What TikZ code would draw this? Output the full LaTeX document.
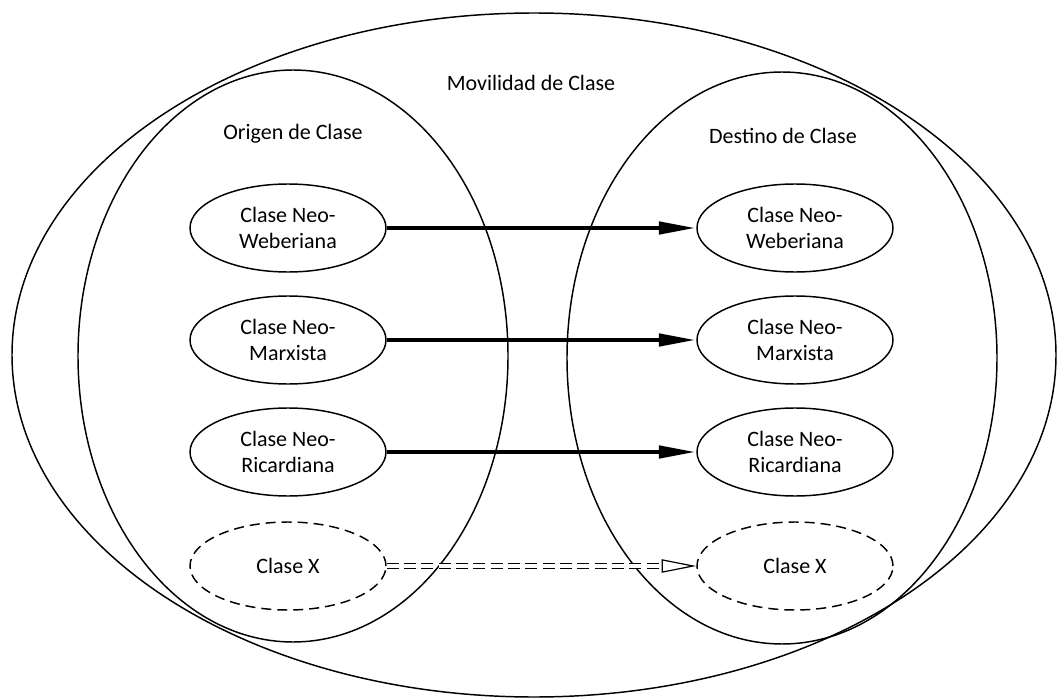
\documentclass[tikz,border=0pt]{standalone}
\usepackage{fontspec}
\setmainfont{Carlito}
\usepackage{tikz}
\usetikzlibrary{shapes.geometric,arrows.meta,calc,positioning}

\begin{document}
\begin{tikzpicture}[x = 0.75pt, y = -0.75pt]
	\tikzstyle{every node} = [font = \fontsize{16.5}{20}\selectfont]
	\tikzstyle{big} = [ellipse, draw = black, line width = 1.1pt, inner sep = 0pt]
	\tikzstyle{clase} = [ellipse, draw = black, line width = 1.1pt, inner sep = 0pt, minimum width = 147pt, minimum height = 66pt, align = center]
	\tikzstyle{posible} = [clase, dash pattern = on 7.5pt off 4.5pt]
	\tikzstyle{flujo} = [line width = 3.4pt, -{Triangle[length = 28pt, width = 9pt]}]
	\tikzstyle{flujox} = [line width = 0.9pt, double, double distance = 2.6pt, dash pattern = on 9pt off 4pt, -{Triangle[open, length = 26pt, width = 10pt]}]
\useasboundingbox (0, 0) rectangle (1058, 699);

\node[big, minimum width = 783pt, minimum height = 513pt] (mov) at (534, 355) {};
\node[big, minimum width = 322.5pt, minimum height = 429pt] (org) at (293, 356) {};
\node[big, minimum width = 322.5pt, minimum height = 429pt] (des) at (782, 358) {};

\node (tmov) at (531, 83) {Movilidad de Clase};
\node (torg) at (293, 134) {Origen de Clase};
\node (tdes) at (783, 136) {Destino de Clase};

\node[clase] (o1) at (288, 228) {Clase Neo-\\Weberiana};
\node[clase] (o2) at (288, 340) {Clase Neo-\\Marxista};
\node[clase] (o3) at (288, 452) {Clase Neo-\\Ricardiana};
\node[posible] (o4) at (288, 566) {Clase X};

\node[clase] (d1) at (795, 228) {Clase Neo-\\Weberiana};
\node[clase] (d2) at (795, 340) {Clase Neo-\\Marxista};
\node[clase] (d3) at (795, 452) {Clase Neo-\\Ricardiana};
\node[posible] (d4) at (795, 566) {Clase X};

	\path[draw, flujo] (o1) -- (d1);
	\path[draw, flujo] (o2) -- (d2);
	\path[draw, flujo] (o3) -- (d3);
	\path[draw, flujox] (o4) -- (d4);
\end{tikzpicture}
\end{document}
